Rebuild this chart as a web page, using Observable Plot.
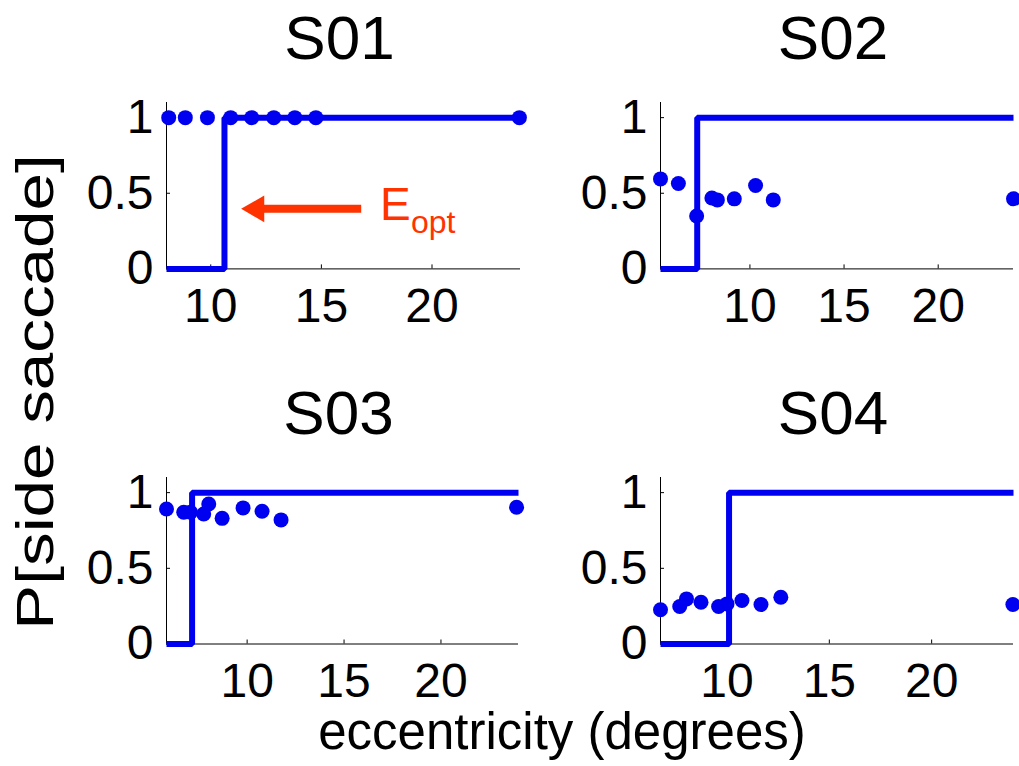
<!DOCTYPE html>
<html>
<head>
<meta charset="utf-8">
<script src="https://cdn.jsdelivr.net/npm/d3@7"></script>
<script src="https://cdn.jsdelivr.net/npm/@observablehq/plot@0.6"></script>
<style>
  body { margin: 0; background: #fff; }
  #root { position: relative; width: 1019px; height: 766px; background: #fff; overflow: hidden;
          font-family: "Liberation Sans", Arial, sans-serif; color: #000; }
  #root svg { position: absolute; left: 0; top: 0; }
  .xlabel { position: absolute; left: 562px; top: 706px; transform: translateX(-50%);
            font-size: 51px; line-height: 1; white-space: nowrap; }
  .ywrap { position: absolute; left: 35px; top: 392px; width: 0; height: 0; }
  .ylabel { position: absolute; left: 0; top: 0; font-size: 51px; line-height: 1; white-space: nowrap;
            transform: translate(-50%, -50%) rotate(-90deg) scaleX(1.32); }
</style>
</head>
<body>
<div id="root">
  <div class="xlabel">eccentricity (degrees)</div>
  <div class="ywrap"><div class="ylabel">P[side saccade]</div></div>
</div>
<script>
// ---- data ----
const subjects = ["S01", "S02", "S03", "S04"];
const xMin = [8, 5.25, 5.84, 6.75];
const xMax = [24, 24, 24, 24];
const stepX = [10.62, 7.2, 7.16, 10.1];
const xTicks = [10, 15, 20];
const yTicks = [0, 0.5, 1];
const yDomain = [0, 1.1];

const s01X = [8.1, 8.85, 9.85, 10.9, 11.85, 12.85, 13.8, 14.75, 23.95];
const s01Y = [1, 1, 1, 1, 1, 1, 1, 1, 1];
const s02X = [5.25, 6.2, 7.17, 7.98, 8.27, 9.17, 10.3, 11.24, 24];
const s02Y = [0.595, 0.565, 0.35, 0.469, 0.456, 0.463, 0.551, 0.456, 0.463];
const s03X = [5.84, 6.73, 7.08, 7.76, 8.02, 8.71, 9.79, 10.77, 11.75, 23.9];
const s03Y = [0.892, 0.87, 0.87, 0.859, 0.925, 0.83, 0.899, 0.877, 0.82, 0.903];
const s04X = [6.75, 7.69, 8.02, 8.73, 9.59, 10.0, 10.73, 11.66, 12.63, 23.97];
const s04Y = [0.226, 0.248, 0.298, 0.276, 0.248, 0.265, 0.287, 0.261, 0.309, 0.261];
const pointX = [s01X, s02X, s03X, s04X];
const pointY = [s01Y, s02Y, s03Y, s04Y];

// E_opt annotation (panel S01), in data units
const arrowTail = 16.8;
const arrowHeadBase = 12.42;
const arrowTip = 11.37;
const arrowY = 0.397;
const eoptLabel = ["E", "opt"];
const eoptX = [17.65, 19.05];
const eoptY = [0.32, 0.24];

// ---- style / layout ----
const blue = "#0000f0";
const red = "#ff3300";
const W = 1019, H = 766;
const layout = [
  {mt: 102, mb: 497.6, ml: 166, mr: 499},
  {mt: 102, mb: 497.6, ml: 660, mr: 6},
  {mt: 477, mb: 122.5, ml: 166, mr: 501},
  {mt: 477, mb: 122.5, ml: 660, mr: 6}
];

const root = document.getElementById("root");

subjects.forEach((name, i) => {
  const L = layout[i];
  const fw = W - L.ml - L.mr, fh = H - L.mt - L.mb;
  const pts = pointX[i].map((x, j) => ({x, y: pointY[i][j]}));
  const step = [
    {x: xMin[i], y: 0}, {x: stepX[i], y: 0},
    {x: stepX[i], y: 1}, {x: xMax[i], y: 1}
  ];
  const marks = [
    Plot.ruleY([0], {stroke: "black", strokeWidth: 1}),
    Plot.ruleX([xMin[i]], {stroke: "black", strokeWidth: 1}),
    Plot.tickX(xTicks, {x: d => d, insetTop: fh - 4, stroke: "black"}),
    Plot.tickY(yTicks, {y: d => d, insetRight: fw - 4, stroke: "black"}),
    Plot.axisX({ticks: xTicks, tickSize: 0, tickPadding: 19, fontSize: 48, label: null, tickFormat: d => `${d}`}),
    Plot.axisY({ticks: yTicks, tickSize: 0, tickPadding: 13, fontSize: 48, label: null, tickFormat: d => `${d}`}),
    Plot.line(step, {x: "x", y: "y", stroke: blue, strokeWidth: 6, strokeLinejoin: "miter", strokeLinecap: "butt"}),
    Plot.dot(pts, {x: "x", y: "y", r: 7.5, fill: blue}),
    Plot.text([name], {text: d => d, frameAnchor: "top", dy: -44, dx: -4, lineAnchor: "bottom", fontSize: 62, fill: "black"})
  ];
  if (i === 0) {
    marks.push(
      Plot.link([{x1: arrowTail, x2: arrowHeadBase - 0.05, y: arrowY}],
        {x1: "x1", x2: "x2", y1: "y", y2: "y", stroke: red, strokeWidth: 8}),
      Plot.dot([{x: arrowTip + (arrowHeadBase - arrowTip) * 2 / 3, y: arrowY}],
        {x: "x", y: "y", symbol: "triangle", r: 9.9, rotate: -90, fill: red, stroke: "none"}),
      Plot.text(eoptLabel.map((t, j) => ({t, x: eoptX[j], y: eoptY[j], fs: j === 0 ? 46 : 32})),
        {x: "x", y: "y", text: "t", textAnchor: "start", lineAnchor: "bottom", fill: red, fontSize: "fs"})
    );
  }
  const svg = Plot.plot({
    width: W, height: H,
    marginTop: L.mt, marginBottom: L.mb, marginLeft: L.ml, marginRight: L.mr,
    x: {domain: [xMin[i], xMax[i]]},
    y: {domain: yDomain},
    style: {background: "transparent", fontFamily: "'Liberation Sans', Arial, sans-serif", overflow: "visible", color: "black"},
    marks
  });
  root.appendChild(svg);
});
</script>
</body>
</html>
